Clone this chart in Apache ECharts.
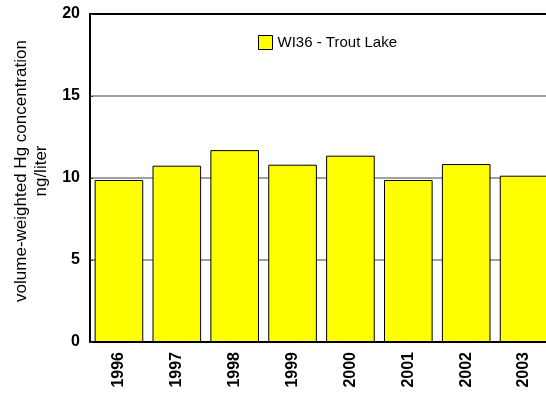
<!DOCTYPE html>
<html>
<head>
<meta charset="utf-8">
<script src="https://cdn.jsdelivr.net/npm/echarts@6/dist/echarts.min.js"></script>
<style>html,body{margin:0;padding:0;background:#fff;overflow:hidden;width:546px;height:393px}#chart{width:553px;height:393px}</style>
</head>
<body>
<div id="chart"></div>
<script>
const categories = ['1996','1997','1998','1999','2000','2001','2002','2003'];
const seriesName = 'WI36 - Trout Lake';
const values = [9.88, 10.75, 11.70, 10.81, 11.36, 9.88, 10.85, 10.14];
const yTicks = [0, 5, 10, 15, 20];
const yTitle = 'volume-weighted Hg concentration\nng/liter';

const chart = echarts.init(document.getElementById('chart'), null, {renderer: 'canvas'});
chart.setOption({
  animation: false,
  backgroundColor: '#fff',
  textStyle: {fontFamily: 'Arial, "Liberation Sans", sans-serif'},
  grid: {left: 90, top: 14, bottom: 51, right: 0},
  legend: {
    data: [seriesName],
    left: 253, top: 30,
    itemWidth: 14, itemHeight: 14, itemGap: 8,
    icon: 'rect',
    textStyle: {fontSize: 15, color: '#000', fontFamily: 'Arial, "Liberation Sans", sans-serif'},
    itemStyle: {borderColor: '#000', borderWidth: 1}
  },
  xAxis: [{
    type: 'category',
    data: categories,
    axisLine: {lineStyle: {color: '#000', width: 2}},
    axisTick: {alignWithLabel: true, length: 8, lineStyle: {color: '#333'}},
    axisLabel: {rotate: 90, margin: 10, fontSize: 16, fontWeight: 'bold', color: '#000'}
  }, {
    type: 'category',
    data: categories,
    position: 'top',
    axisLine: {show: true, lineStyle: {color: '#000', width: 2}},
    axisTick: {show: false},
    axisLabel: {show: false}
  }],
  yAxis: {
    type: 'value',
    min: yTicks[0], max: yTicks[yTicks.length - 1], interval: 5,
    name: yTitle,
    nameLocation: 'middle',
    nameGap: 35,
    nameTextStyle: {fontSize: 17, color: '#000', lineHeight: 20, padding: [0, 0, 0, 14]},
    axisLine: {show: true, lineStyle: {color: '#000', width: 2}},
    axisTick: {show: true, inside: true, length: 3, lineStyle: {color: '#333'}},
    axisLabel: {fontSize: 16, fontWeight: 'bold', color: '#000', margin: 10},
    splitLine: {show: true, lineStyle: {color: '#808080', width: 1.5}}
  },
  series: [{
    name: seriesName,
    type: 'bar',
    data: values,
    barCategoryGap: '16%',
    itemStyle: {color: '#ffff00', borderColor: '#000', borderWidth: 1}
  }]
});
</script>
</body>
</html>
